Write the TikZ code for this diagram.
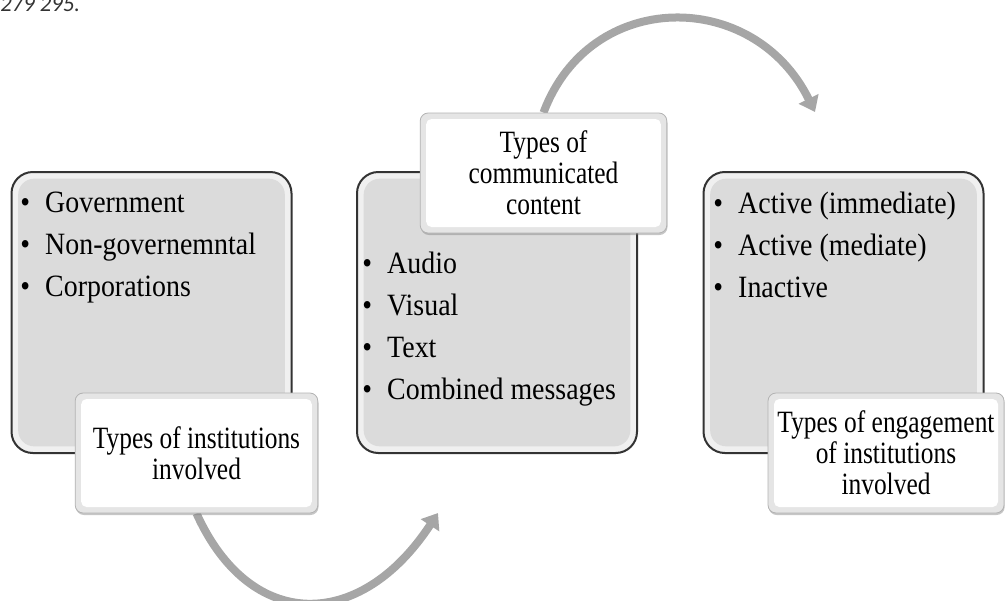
\documentclass[tikz,border=0pt]{standalone}
\usepackage{fontspec}
\setmainfont{Liberation Serif}
\newfontfamily\listfont[FakeStretch=0.9]{Liberation Serif}
\newfontfamily\tagfont[FakeStretch=0.82]{Liberation Serif}
\newfontfamily\pagefont{Carlito}
\usetikzlibrary{arrows.meta, positioning, shadows, backgrounds}

\newcommand{\bul}{\makebox[18.75pt][l]{\textbullet}}

\begin{document}
\begin{tikzpicture}[
  x=0.75pt, y=-0.75pt,
  panel/.style={draw=black!80, line width=1.5pt, rounded corners=16pt, fill=black!6,
    minimum width=210pt, minimum height=210.75pt,
    path picture={\fill[black!14, rounded corners=12pt]
      ([shift={(5pt,5pt)}]path picture bounding box.south west) rectangle
      ([shift={(-5pt,-5pt)}]path picture bounding box.north east);}},
  tag/.style={draw=black!30, line width=0.6pt, rounded corners=6pt, fill=black!10,
    minimum height=90pt, inner sep=3pt, align=center,
    font=\tagfont\fontsize{23.25pt}{23.25pt}\selectfont,
    drop shadow={shadow xshift=0.5pt, shadow yshift=-1.5pt, opacity=0.45},
    path picture={\fill[white, rounded corners=4pt]
      ([shift={(4.5pt,4.5pt)}]path picture bounding box.south west) rectangle
      ([shift={(-4.5pt,-4.5pt)}]path picture bounding box.north east);}},
  list/.style={anchor=north west, inner sep=0pt, align=left,
    font=\listfont\fontsize{23.25pt}{31.5pt}\selectfont},
  arrowline/.style={line width=6pt, draw=black!35, -{Triangle[width=16pt,length=11pt]}}
]
  \useasboundingbox (0,0) rectangle (1005,600);

  % page reference, cut at the top
  \node[anchor=base west, inner sep=0pt, text=black!80,
    font=\pagefont\itshape\fontsize{17pt}{17pt}\selectfont] (pageref) at (0,11) {279 295.};

  % three panels
  \node[panel] (inst) at (151.5,312.5) {};
  \node[panel] (cont) at (497,312.5) {};
  \node[panel] (engage) at (843.5,312.5) {};

  % panel contents
  \node[list] (instlist) at (20,192) {\bul Government\\\bul Non-governemntal\\\bul Corporations};
  \node[list] (contlist) at (362,252) {\bul Audio\\\bul Visual\\\bul Text\\\bul Combined messages};
  \node[list] (engagelist) at (713,192) {\bul Active (immediate)\\\bul Active (mediate)\\\bul Inactive};

  % captions
  \node[tag, minimum width=182pt] (insttag) at (196.5,453) {Types of institutions\\involved};
  \node[tag, minimum width=185pt] (conttag) at (543.5,173) {Types of\\communicated\\content};
  \node[tag, minimum width=177pt] (engagetag) at (886,453) {Types of engagement\\of institutions\\involved};

  % curved arrows
  \coordinate (toCont) at (438,513);
  \coordinate (toEngage) at (815,112);
  \begin{scope}[on background layer]
    \draw[arrowline] (insttag.south) .. controls (250,632) and (360,632) .. (toCont);
    \draw[arrowline] (conttag.north) .. controls (590,-12) and (754,-12) .. (toEngage);
  \end{scope}

\end{tikzpicture}
\end{document}
